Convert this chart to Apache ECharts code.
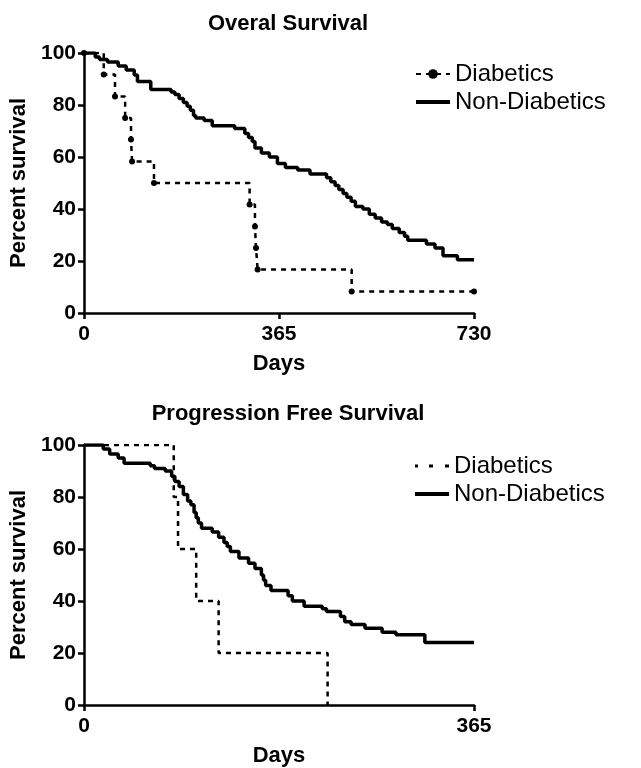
<!DOCTYPE html>
<html>
<head>
<meta charset="utf-8">
<script src="https://cdn.jsdelivr.net/npm/echarts@6/dist/echarts.min.js"></script>
<style>
  html, body { margin: 0; padding: 0; background: #fff; }
  #main { width: 641px; height: 768px; }
</style>
</head>
<body>
<div id="main"></div>
<script>
// overall survival, days / percent
var osDiabDays = [0, 37, 58, 77, 88, 90, 131, 310, 320, 322, 325, 501, 730];
var osDiabPct = [100, 91.7, 83.3, 75, 66.7, 58.3, 50, 41.7, 33.3, 25, 16.7, 8.3, 8.3];

var osNonDays = [0, 21, 29, 44, 64, 79, 94, 100, 125, 163, 170, 178, 186, 193, 199, 205, 209, 225, 240, 282, 301, 308, 315, 320, 332, 347, 362, 377, 400, 423, 454, 462, 470, 477, 485, 492, 500, 508, 522, 534, 545, 557, 568, 577, 590, 600, 606, 641, 657, 672, 699, 730];
var osNonPct = [100, 98.5, 97.5, 96.5, 95, 93.5, 91.5, 89, 86, 85, 84, 82.5, 81, 79.5, 78, 76, 75, 74, 72, 71, 69, 67.5, 66, 63.5, 61.5, 60, 57.5, 56, 55, 53.5, 52, 50.5, 49, 47.5, 46, 44.5, 43, 41, 40, 38, 36.5, 35, 34, 32.5, 31, 29.5, 28, 26.5, 25, 22, 20.5, 20.5];

// progression free survival
var pfsDiabDays = [0, 84, 88, 105, 126, 228];
var pfsDiabPct = [100, 80, 60, 40, 20, 0];

var pfsNonDays = [0, 18, 24, 32, 37.5, 62, 66, 76, 82, 85, 89, 93, 97, 100, 103, 105, 107, 110, 120, 126, 131, 134, 137, 145, 154, 160, 166, 168, 170, 175, 191, 195, 206, 223, 227, 240, 244, 250, 263, 279, 292, 319, 365];
var pfsNonPct = [100, 98.5, 96.5, 95, 93, 92, 91, 90, 88, 86, 84, 81, 78.5, 77, 74, 72, 70, 68, 66.5, 64.5, 62.5, 61, 59, 56.5, 54.5, 52.5, 50, 48, 46, 44, 42, 40, 38, 37, 36, 34, 32, 31, 29.5, 28, 27, 24, 24];

var yTicks = [0, 20, 40, 60, 80, 100];

function pairs(xs, ys) {
  return xs.map(function (x, i) { return [x, ys[i]]; });
}

var FONT = '"Liberation Sans", Arial, sans-serif';
var SOLID_ICON = 'path://M0,0L34,0L34,4L0,4Z';
var DOTS_ICON = 'path://M0,0h3v3h-3z M14,0h4v3h-4z M30,0h4v3h-4z';

function xAx(idx, max) {
  return {
    gridIndex: idx, type: 'value', min: 0, max: max, interval: 365,
    name: 'Days', nameLocation: 'middle', nameGap: 40,
    nameTextStyle: { fontFamily: FONT, fontWeight: 'bold', fontSize: 22, color: '#000' },
    axisLine: { lineStyle: { color: '#000', width: 2.5 } },
    axisTick: { length: 6, lineStyle: { color: '#000', width: 2.5 } },
    axisLabel: { fontFamily: FONT, fontWeight: 'bold', fontSize: 21, color: '#000', margin: 11 },
    splitLine: { show: false }
  };
}
function yAx(idx) {
  return {
    gridIndex: idx, type: 'value', min: yTicks[0], max: yTicks[yTicks.length - 1], interval: 20,
    name: 'Percent survival', nameLocation: 'middle', nameGap: 46, nameRotate: 90,
    nameTextStyle: { fontFamily: FONT, fontWeight: 'bold', fontSize: 22, color: '#000' },
    axisLine: { show: true, lineStyle: { color: '#000', width: 2.5 } },
    axisTick: { show: true, length: 6, lineStyle: { color: '#000', width: 2.5 } },
    axisLabel: { fontFamily: FONT, fontWeight: 'bold', fontSize: 21, color: '#000', margin: 8 },
    splitLine: { show: false }
  };
}
function leg(top, diabIcon) {
  var diab = { name: 'Diabetics' };
  if (diabIcon) diab.icon = diabIcon;
  return {
    data: [diab, { name: 'Non-Diabetics', icon: SOLID_ICON }],
    orient: 'vertical', left: 410, top: top,
    itemWidth: 34, itemHeight: 12, itemGap: 4, selectedMode: false,
    symbolKeepAspect: true,
    itemStyle: { color: '#000' },
    textStyle: { fontFamily: FONT, fontSize: 24, color: '#000' }
  };
}

var myChart = echarts.init(document.getElementById('main'));
var option = {
  backgroundColor: '#fff',
  animation: false,
  title: [
    { text: 'Overal Survival', left: 283, top: 8, textAlign: 'center',
      textStyle: { fontFamily: FONT, fontWeight: 'bold', fontSize: 22, color: '#000' } },
    { text: 'Progression Free Survival', left: 283, top: 398, textAlign: 'center',
      textStyle: { fontFamily: FONT, fontWeight: 'bold', fontSize: 22, color: '#000' } }
  ],
  legend: [leg(57, null), leg(449, DOTS_ICON)],
  grid: [
    { left: 84, top: 53, width: 390, height: 260 },
    { left: 84, top: 445, width: 390, height: 260 }
  ],
  xAxis: [xAx(0, 730), xAx(1, 365)],
  yAxis: [yAx(0), yAx(1)],
  series: [
    { name: 'Diabetics', type: 'line', step: 'end', xAxisIndex: 0, yAxisIndex: 0,
      data: pairs(osDiabDays, osDiabPct), symbol: 'circle', symbolSize: 6,
      itemStyle: { color: '#000' }, lineStyle: { color: '#000', width: 2.5, type: [5, 5] } },
    { name: 'Non-Diabetics', type: 'line', step: 'end', xAxisIndex: 0, yAxisIndex: 0,
      data: pairs(osNonDays, osNonPct), symbol: 'none',
      itemStyle: { color: '#000' }, lineStyle: { color: '#000', width: 3.5 } },
    { name: 'Diabetics', type: 'line', step: 'end', xAxisIndex: 1, yAxisIndex: 1,
      data: pairs(pfsDiabDays, pfsDiabPct), symbol: 'none',
      itemStyle: { color: '#000' }, lineStyle: { color: '#000', width: 2.5, type: [5, 5] } },
    { name: 'Non-Diabetics', type: 'line', step: 'end', xAxisIndex: 1, yAxisIndex: 1,
      data: pairs(pfsNonDays, pfsNonPct), symbol: 'none',
      itemStyle: { color: '#000' }, lineStyle: { color: '#000', width: 3.5 } }
  ]
};
myChart.setOption(option);
</script>
</body>
</html>
